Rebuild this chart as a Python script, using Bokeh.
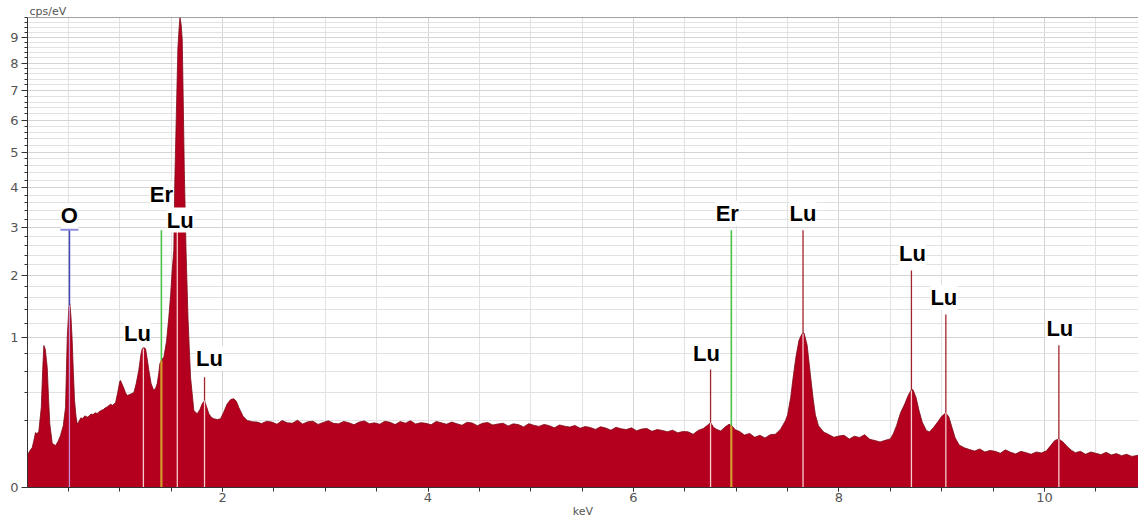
import numpy as np
from bokeh.plotting import figure
from bokeh.models import (Range1d, FixedTicker, SingleIntervalTicker, CustomJSTickFormatter,
                          ColumnDataSource, LabelSet, Span)
from bokeh.core.properties import value
from bokeh.embed import file_html
from bokeh.resources import INLINE

# ---------------- data ----------------
energy_keV = [
    0.102, 0.125, 0.148, 0.165, 0.180, 0.195, 0.212, 0.236, 0.250, 0.261, 0.275, 0.294, 0.307, 0.319,
    0.343, 0.360, 0.375, 0.400, 0.423, 0.450, 0.472, 0.489, 0.505, 0.514, 0.525, 0.537, 0.548, 0.560,
    0.575, 0.586, 0.600, 0.620, 0.640, 0.660, 0.683, 0.700, 0.720, 0.740, 0.760, 0.780, 0.813, 0.840,
    0.860, 0.880, 0.910, 0.930, 0.959, 0.980, 1.000, 1.007, 1.020, 1.039, 1.055, 1.072, 1.100, 1.137,
    1.160, 1.185, 1.205, 1.218, 1.235, 1.251, 1.265, 1.283, 1.305, 1.331, 1.350, 1.364, 1.380, 1.390,
    1.410, 1.429, 1.455, 1.477, 1.495, 1.510, 1.526, 1.536, 1.552, 1.566, 1.578, 1.586, 1.598, 1.608,
    1.618, 1.628, 1.645, 1.664, 1.689, 1.721, 1.754, 1.780, 1.802, 1.825, 1.845, 1.867, 1.890, 1.915,
    1.950, 1.981, 2.010, 2.046, 2.080, 2.110, 2.135, 2.159, 2.200, 2.240, 2.290, 2.338,
    2.38, 2.43, 2.48, 2.53, 2.58, 2.63, 2.68, 2.73, 2.78, 2.83, 2.88, 2.93, 2.98, 3.03, 3.08, 3.13,
    3.18, 3.23, 3.28, 3.33, 3.38, 3.43, 3.48, 3.53, 3.58, 3.63, 3.68, 3.73, 3.78, 3.83, 3.88, 3.93,
    3.98, 4.03, 4.08, 4.13, 4.18, 4.23, 4.28, 4.33, 4.38, 4.43, 4.48, 4.53, 4.58, 4.63, 4.68, 4.73,
    4.78, 4.83, 4.88, 4.93, 4.98, 5.03, 5.08, 5.13, 5.18, 5.23, 5.28, 5.33, 5.38, 5.43, 5.48, 5.53,
    5.58, 5.63, 5.68, 5.73, 5.78, 5.83, 5.88, 5.93, 5.98, 6.03, 6.08, 6.13, 6.18, 6.23, 6.28, 6.33,
    6.38, 6.43, 6.48,
    6.53, 6.58, 6.63, 6.68, 6.72, 6.75, 6.78, 6.81, 6.85, 6.89, 6.93, 6.96, 6.99, 7.03, 7.08, 7.13,
    7.18, 7.23, 7.28, 7.33, 7.38, 7.43, 7.48, 7.50, 7.53, 7.55, 7.58, 7.61, 7.64, 7.66, 7.69, 7.72,
    7.75, 7.77, 7.80, 7.85,
    7.90, 7.95, 8.00, 8.05, 8.10, 8.15, 8.20, 8.25, 8.30, 8.35, 8.40, 8.45, 8.50, 8.53, 8.56, 8.60,
    8.64, 8.67, 8.70, 8.72, 8.75, 8.78, 8.81, 8.85, 8.88, 8.92, 8.96, 9.00, 9.04, 9.07, 9.10, 9.13,
    9.17, 9.22, 9.27, 9.32, 9.37, 9.42, 9.47, 9.52, 9.57, 9.62, 9.67, 9.72, 9.77, 9.82, 9.87, 9.92,
    9.97, 10.02, 10.06, 10.10, 10.14, 10.18, 10.22, 10.26, 10.30, 10.35, 10.40, 10.45, 10.50, 10.55,
    10.60, 10.65, 10.70, 10.75, 10.80, 10.85, 10.91,
]
counts_cps = [
    0.048, 0.060, 0.071, 0.100, 0.134, 0.128, 0.140, 0.284, 0.620, 0.896, 0.850, 0.640, 0.350, 0.180,
    0.086, 0.082, 0.078, 0.095, 0.120, 0.170, 0.284, 1.000, 1.450, 1.500, 1.300, 0.960, 0.600, 0.336,
    0.220, 0.180, 0.190, 0.215, 0.212, 0.228, 0.220, 0.226, 0.240, 0.236, 0.248, 0.244, 0.262, 0.270,
    0.282, 0.290, 0.308, 0.300, 0.320, 0.400, 0.500, 0.509, 0.480, 0.440, 0.400, 0.376, 0.385, 0.400,
    0.480, 0.610, 0.780, 0.855, 0.870, 0.855, 0.750, 0.610, 0.480, 0.418, 0.440, 0.478, 0.580, 0.680,
    0.730, 0.755, 0.950, 1.280, 1.650, 2.090, 2.500, 4.200, 6.400, 8.600, 9.400, 9.820, 9.500, 8.900,
    6.600, 4.500, 2.500, 1.280, 0.540, 0.264, 0.241, 0.270, 0.311, 0.336, 0.290, 0.241, 0.220, 0.210,
    0.205, 0.210, 0.250, 0.311, 0.345, 0.350, 0.330, 0.284, 0.225, 0.200, 0.192, 0.190,
    0.182, 0.195, 0.190, 0.178, 0.199, 0.186, 0.184, 0.201, 0.179, 0.192, 0.195, 0.177, 0.188, 0.198, 0.183, 0.180,
    0.194, 0.186, 0.175, 0.190, 0.197, 0.181, 0.186, 0.178, 0.195, 0.189, 0.176, 0.193, 0.184, 0.198, 0.179, 0.187,
    0.183, 0.175, 0.194, 0.186, 0.178, 0.190, 0.181, 0.172, 0.189, 0.185, 0.170, 0.183, 0.188, 0.174, 0.179, 0.184,
    0.168, 0.180, 0.176, 0.163, 0.181, 0.172, 0.166, 0.177, 0.170, 0.158, 0.174, 0.167, 0.162, 0.171, 0.156, 0.165,
    0.160, 0.150, 0.164, 0.157, 0.146, 0.161, 0.153, 0.149, 0.158, 0.143, 0.152, 0.155, 0.140, 0.149, 0.145, 0.138,
    0.146, 0.133, 0.139,
    0.138, 0.126, 0.145, 0.155, 0.172, 0.188, 0.160, 0.150, 0.142, 0.162, 0.178, 0.168, 0.148, 0.140, 0.122, 0.130,
    0.112, 0.121, 0.109, 0.124, 0.126, 0.150, 0.200, 0.235, 0.360, 0.509, 0.750, 0.960, 1.050, 1.060, 0.900, 0.580,
    0.340, 0.235, 0.170, 0.137,
    0.125, 0.112, 0.118, 0.121, 0.104, 0.117, 0.111, 0.124, 0.103, 0.098, 0.092, 0.099, 0.105, 0.130, 0.170, 0.250,
    0.310, 0.370, 0.420, 0.425, 0.360, 0.260, 0.190, 0.145, 0.137, 0.160, 0.190, 0.225, 0.248, 0.220, 0.160, 0.110,
    0.080, 0.070, 0.064, 0.059, 0.066, 0.056, 0.061, 0.058, 0.052, 0.063, 0.055, 0.050, 0.058, 0.054, 0.049, 0.056,
    0.053, 0.060, 0.078, 0.098, 0.105, 0.092, 0.075, 0.062, 0.054, 0.058, 0.049, 0.056, 0.052, 0.048,
    0.055, 0.047, 0.051, 0.045, 0.049, 0.043, 0.046,
]
assert len(energy_keV) == len(counts_cps)

line_names = ["O", "Lu", "Er", "Lu", "Lu", "Lu", "Er", "Lu", "Lu", "Lu", "Lu"]
line_keV = [0.51, 1.23, 1.405, 1.56, 1.825, 6.75, 6.952, 7.65, 8.705, 9.04, 10.14]
line_top = [2.95, 0.86, 2.94, 2.90, 0.54, 0.62, 2.94, 2.94, 2.09, 1.33, 0.90]

y_tick_values = [0, 1, 2, 3, 4, 5, 6, 7, 8, 9]
x_tick_interval = 2

# ---------------- styling ----------------
label_dx = [0, -6, 0, 3, 5, -4, -4, 0, 1, -2, 1]
label_dy = [14, 15, 36, 12, 19, 16, 17, 17, 17, 17, 17]
elem_color = {"O": "#4646B4", "Er": "#4CC24C", "Lu": "#A0262C"}
elem_inner = {"O": "#C890D0", "Er": "#D49A2E", "Lu": "#F6CCCC"}
elem_width = {"O": 1.6, "Er": 1.6, "Lu": 1.3}

E = np.array(energy_keV)
V = np.array(counts_cps)
sq = np.sqrt

x_lo, x_hi = 0.102, 10.915
y_top = 3.133  # sqrt-scale top (~9.8 cps/eV)

p = figure(width=1138, height=520, output_backend="svg", toolbar_location=None,
           x_range=Range1d(x_lo, x_hi), y_range=Range1d(0, y_top),
           min_border_left=27, min_border_right=0, min_border_top=17, min_border_bottom=33,
           title="cps/eV")
p.background_fill_color = "white"
p.border_fill_color = "white"
p.outline_line_color = None
p.title.text_font = "DejaVu Sans"
p.title.text_font_size = "11px"
p.title.text_font_style = "normal"
p.title.text_color = "#555555"
p.title.standoff = 0
p.title.offset = 2

# spectrum
p.varea(x=E, y1=np.zeros_like(E), y2=sq(V), fill_color="#B4001E")
p.line(E, sq(V), line_color="#7D0A16", line_width=0.8)

# element marker lines
spec_at = np.interp(line_keV, E, V)
lo_x, lo_y1, lo_c, lo_w = [], [], [], []
up_x, up_y0, up_y1, up_c, up_w = [], [], [], [], []
for n, e, t, s in zip(line_names, line_keV, line_top, spec_at):
    lo_x.append(e); lo_y1.append(sq(min(s, t))); lo_c.append(elem_inner[n])
    lo_w.append(2.2 if n == "Er" else 1.3)
    if t > s:
        up_x.append(e); up_y0.append(sq(s)); up_y1.append(sq(t))
        up_c.append(elem_color[n]); up_w.append(elem_width[n])
p.segment(x0=lo_x, x1=lo_x, y0=[0] * len(lo_x), y1=lo_y1, line_color=lo_c, line_width=lo_w)
p.segment(x0=up_x, x1=up_x, y0=up_y0, y1=up_y1, line_color=up_c, line_width=up_w)

# O marker cap
p.rect(x=[line_keV[0]], y=[sq(line_top[0])], width=18, height=2, width_units="screen",
       height_units="screen", fill_color="#8C8CE0", line_color=None)

# labels
lab_src = ColumnDataSource(dict(x=line_keV, y=[sq(t) for t in line_top], text=line_names,
                                dx=label_dx, dy=label_dy))
p.add_layout(LabelSet(x="x", y="y", text="text", source=lab_src, x_offset="dx", y_offset="dy",
                      text_align="center", text_baseline="middle", text_font=value("Liberation Sans"),
                      text_font_style="bold", text_font_size="22px", text_color="black",
                      background_fill_color="white", background_fill_alpha=1.0))

# axes
xt = SingleIntervalTicker(interval=x_tick_interval, num_minor_ticks=4)
p.xaxis.ticker = xt
p.xgrid.ticker = xt
yt = FixedTicker(ticks=list(sq(y_tick_values)), minor_ticks=list(sq(np.arange(0, 9.81, 0.2))))
p.yaxis.ticker = yt
p.ygrid.ticker = yt
p.yaxis.formatter = CustomJSTickFormatter(code="return Math.round(tick*tick).toString()")

for g in (p.xgrid, p.ygrid):
    g.grid_line_color = "#D4D4D4"
    g.minor_grid_line_color = "#E2E2E2"
    g.grid_line_width = 1
    g.minor_grid_line_width = 1

for ax in (p.xaxis, p.yaxis):
    ax.axis_line_color = "#333333"
    ax.major_tick_line_color = "#333333"
    ax.minor_tick_line_color = "#333333"
    ax.major_label_text_color = "#555555"
    ax.major_label_text_font = "DejaVu Sans"
    ax.major_label_text_font_size = "13px"
    ax.major_tick_in = 0
    ax.minor_tick_in = 0
p.xaxis.major_tick_out = 4
p.xaxis.minor_tick_out = 4
p.xaxis.major_label_standoff = 1
p.xaxis.axis_label = "keV"
p.xaxis.axis_label_standoff = 0
p.xaxis.axis_label_text_font = "DejaVu Sans"
p.xaxis.axis_label_text_font_size = "11px"
p.xaxis.axis_label_text_font_style = "normal"
p.xaxis.axis_label_text_color = "#555555"
p.yaxis.major_tick_out = 6
p.yaxis.minor_tick_out = 3
p.yaxis.major_label_standoff = 3

p.add_layout(Span(location=y_top, dimension="width", line_color="#555555", line_width=1))

open("out.html", "w").write(file_html(p, INLINE))
